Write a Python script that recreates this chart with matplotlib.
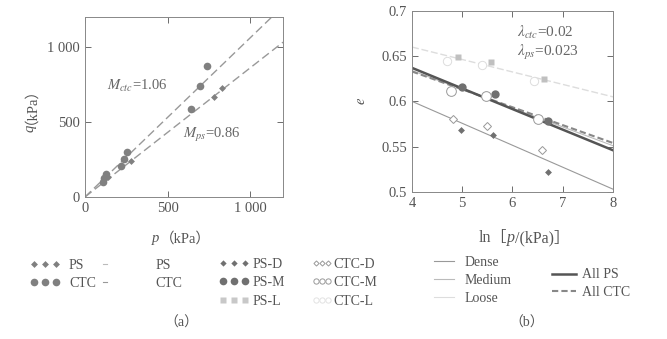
import numpy as np
import matplotlib.pyplot as plt
from matplotlib.lines import Line2D

plt.rcParams['font.family'] = ['Liberation Serif', 'Noto Sans CJK SC']
plt.rcParams['mathtext.fontset'] = 'stix'

# (a) p-q data
ctc_p = [108, 118, 128, 218, 236, 253, 642, 697, 739]
ctc_q = [100, 128, 150, 208, 255, 302, 584, 738, 872]
ps_p = [140, 279, 783, 832]
ps_q = [132, 242, 664, 725]
M_ctc = 1.06
M_ps = 0.86
a_ticks = [0, 500, 1000]
a_ticklabels = ['0', '500', '1 000']

# (b) e - ln p data
psd_x = [4.97, 5.62, 6.71]; psd_e = [0.568, 0.563, 0.522]
ctcd_x = [4.82, 5.50, 6.59]; ctcd_e = [0.581, 0.573, 0.546]
psm_x = [4.99, 5.65, 6.71]; psm_e = [0.616, 0.608, 0.578]
ctcm_x = [4.78, 5.47, 6.51]; ctcm_e = [0.611, 0.606, 0.580]
psl_x = [4.91, 5.57, 6.63]; psl_e = [0.649, 0.643, 0.625]
ctcl_x = [4.69, 5.39, 6.43]; ctcl_e = [0.645, 0.640, 0.622]
line_x = [4, 8]
dense_e = [0.600, 0.503]
medium_e = [0.634, 0.551]
loose_e = [0.660, 0.605]
allps_e = [0.637, 0.546]
allctc_e = [0.633, 0.554]

TXT = '#555555'

fig = plt.figure(figsize=(6.67, 3.39), dpi=100)
axa = fig.add_axes([0.1274, 0.419, 0.297, 0.531])
axb = fig.add_axes([0.6177, 0.434, 0.3013, 0.534])

for ax in (axa, axb):
    ax.tick_params(direction='in', top=True, right=True, labelsize=10.5,
                   colors=TXT, length=4, width=0.6)
    for s in ax.spines.values():
        s.set_color('#888888')
        s.set_linewidth(0.7)

# panel a
xx = np.array([0, 1200])
axa.plot(xx, M_ctc * xx, ls=(0, (6, 3)), color='#999999', lw=1)
axa.plot(xx, M_ps * xx, ls=(0, (6, 3)), color='#999999', lw=1)
axa.plot(ctc_p, ctc_q, 'o', color='#808080', ms=5.5, mec='none')
axa.plot(ps_p, ps_q, 'D', color='#808080', ms=3.5, mec='none')
axa.set_xlim(0, 1200)
axa.set_ylim(0, 1200)
axa.set_xticks(a_ticks)
axa.set_xticklabels(a_ticklabels)
axa.set_yticks(a_ticks)
axa.set_yticklabels(a_ticklabels)
axa.text(133, 738, r'$M_{ctc}$=1.06', fontsize=10.5, color='#666666', va='center')
axa.text(594, 416, r'$M_{ps}$=0.86', fontsize=10.5, color='#666666', va='center')

# x label of (a): italic p + （kPa）
t = fig.text(0.228, 0.285, 'p', style='italic', fontsize=10.5, color=TXT)
axa.annotate('（kPa）', xy=(1, 0), xycoords=t, fontsize=10.5, color=TXT, va='bottom')
# y label of (a): rotated italic q + （kPa）
fig.text(0.0495, 0.611, 'q', style='italic', fontsize=10.5, color=TXT,
         rotation=90, rotation_mode='anchor', ha='left', va='baseline')
fig.text(0.0405, 0.634, '（kPa）', fontsize=10.5, color=TXT,
         rotation=90, rotation_mode='anchor', ha='left', va='baseline')

# panel b
axb.plot(line_x, dense_e, color='#999999', lw=0.8)
axb.plot(line_x, medium_e, color='#bbbbbb', lw=0.8)
axb.plot(line_x, loose_e, color='#dddddd', lw=1, ls=(0, (5, 2)))
axb.plot(line_x, allctc_e, color='#888888', lw=1.5, ls=(0, (3, 1.5)))
axb.plot(line_x, allps_e, color='#555555', lw=1.8)
axb.plot(psd_x, psd_e, 'D', color='#707070', ms=3.5, mec='none')
axb.plot(ctcd_x, ctcd_e, 'D', mfc='white', mec='#999999', ms=4, mew=0.7)
axb.plot(psm_x, psm_e, 'o', color='#707070', ms=6, mec='none')
axb.plot(ctcm_x, ctcm_e, 'o', mfc='white', mec='#999999', ms=7, mew=0.7)
axb.plot(psl_x, psl_e, 's', color='#c0c0c0', ms=4.5, mec='none')
axb.plot(ctcl_x, ctcl_e, 'o', mfc='white', mec='#dddddd', ms=6, mew=0.7)
axb.set_xlim(4, 8)
axb.set_ylim(0.5, 0.7)
axb.set_xticks([4, 5, 6, 7, 8])
axb.set_yticks([0.5, 0.55, 0.6, 0.65, 0.7])
axb.set_yticklabels(['0.5', '0.55', '0.6', '0.65', '0.7'])
axb.text(6.09, 0.676, r'$\lambda_{ctc}$=0.02', fontsize=11, color='#666666', va='center')
axb.text(6.09, 0.654, r'$\lambda_{ps}$=0.023', fontsize=11, color='#666666', va='center')
axb.set_ylabel(r'$e$', fontsize=10.5, color=TXT, labelpad=10)

# x label of (b): ln［p/(kPa)］
t = fig.text(0.718, 0.285, 'ln［', fontsize=11.5, color=TXT)
t = axb.annotate('p', xy=(1, 0), xycoords=t, style='italic', fontsize=11.5,
                 color=TXT, va='bottom')
axb.annotate('/(kPa)］', xy=(1, 0), xycoords=t, fontsize=11.5, color=TXT, va='bottom')

# legends
lkw = dict(frameon=False, fontsize=10, labelcolor=TXT, loc='upper left',
           borderpad=0, borderaxespad=0, numpoints=3)

h1 = [Line2D([], [], ls='none', marker='D', color='#808080', ms=3.5, mec='none'),
      Line2D([], [], ls='none', marker='o', color='#808080', ms=5.5, mec='none')]
fig.legend(h1, ['PS', 'CTC'], bbox_to_anchor=(0.045, 0.235), handlelength=2.2,
           handletextpad=0.6, labelspacing=0.35, **lkw)

h2 = [Line2D([], [], color='#bbbbbb', lw=0.8), Line2D([], [], color='#999999', lw=0.8)]
fig.legend(h2, ['PS', 'CTC'], bbox_to_anchor=(0.148, 0.235), handlelength=0.9,
           handletextpad=3.2, labelspacing=0.35, **lkw)

h3 = [Line2D([], [], ls='none', marker='D', color='#707070', ms=3.2, mec='none'),
      Line2D([], [], ls='none', marker='o', color='#707070', ms=5.5, mec='none'),
      Line2D([], [], ls='none', marker='s', color='#c8c8c8', ms=4.2, mec='none')]
fig.legend(h3, ['PS-D', 'PS-M', 'PS-L'], bbox_to_anchor=(0.328, 0.240),
           handlelength=2.2, handletextpad=0.2, labelspacing=0.4, **lkw)

h4 = [Line2D([], [], ls='none', marker='D', mfc='white', mec='#999999', ms=2.6, mew=0.7),
      Line2D([], [], ls='none', marker='o', mfc='white', mec='#999999', ms=3.8, mew=0.7),
      Line2D([], [], ls='none', marker='o', mfc='white', mec='#e2e2e2', ms=3.8, mew=0.7)]
fig.legend(h4, ['CTC-D', 'CTC-M', 'CTC-L'], bbox_to_anchor=(0.468, 0.240),
           handlelength=1.46, handletextpad=0.1, labelspacing=0.4, **lkw)

h5 = [Line2D([], [], color='#999999', lw=0.8), Line2D([], [], color='#bbbbbb', lw=0.8),
      Line2D([], [], color='#dddddd', lw=0.8)]
fig.legend(h5, ['Dense', 'Medium', 'Loose'], bbox_to_anchor=(0.645, 0.245),
           handlelength=2.0, handletextpad=0.5, labelspacing=0.35, **lkw)

h6 = [Line2D([], [], color='#555555', lw=1.8),
      Line2D([], [], color='#888888', lw=1.5, ls=(0, (3, 1.5)))]
fig.legend(h6, ['All PS', 'All CTC'], bbox_to_anchor=(0.822, 0.208),
           handlelength=2.3, handletextpad=0.15, labelspacing=0.35, **lkw)

fig.text(0.272, 0.048, '（a）', fontsize=10, color=TXT, ha='center', va='center')
fig.text(0.79, 0.048, '（b）', fontsize=10, color=TXT, ha='center', va='center')

fig.savefig('out.png', dpi=100)
